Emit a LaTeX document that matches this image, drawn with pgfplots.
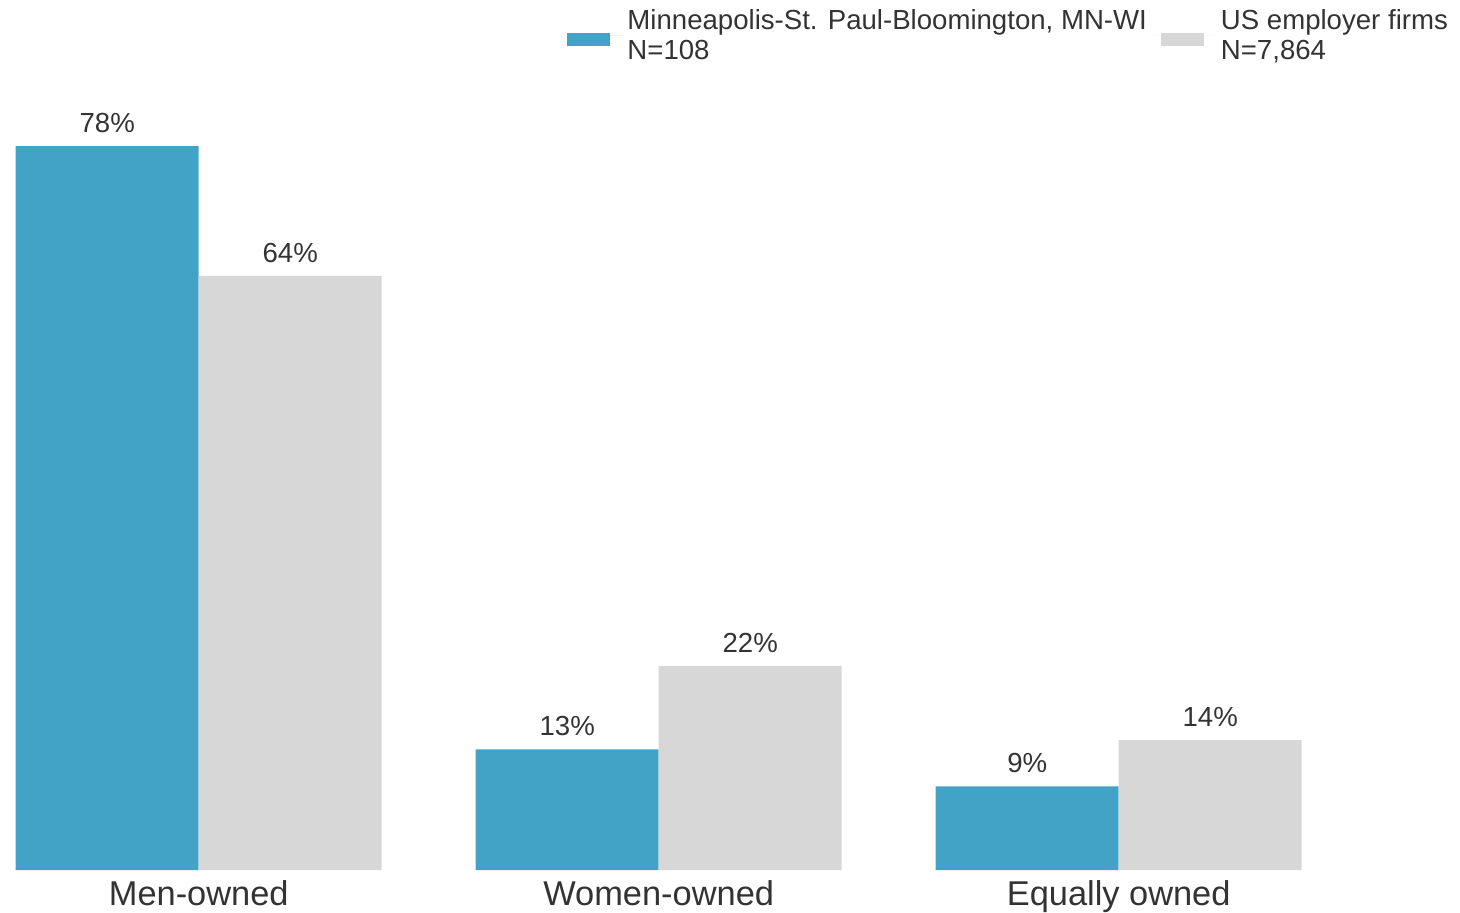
\documentclass[border=0pt]{standalone}
\usepackage{pgfplots}
\pgfplotsset{compat=1.18}
\usepackage{fontspec}
\setmainfont{Liberation Sans}
\definecolor{msp}{HTML}{42A3C7}
\definecolor{usgray}{HTML}{D7D7D7}
\definecolor{txt}{HTML}{333333}
\begin{document}
\begin{tikzpicture}
\useasboundingbox (0,-21pt) rectangle (730pt,435pt);
\begin{axis}[
  at={(0,0)}, anchor=south west,
  scale only axis, width=730pt, height=435pt,
  xmin=-0.432, xmax=2.742, ymin=0, ymax=93.73,
  ybar, bar width=91.5pt,
  axis line style={draw=none},
  ytick=\empty,
  xtick={0,1,2},
  xticklabels={Men-owned,Women-owned,Equally owned},
  major tick length=0pt,
  xticklabel style={font=\fontsize{17.2pt}{20pt}\selectfont, text=txt,
    anchor=north, inner sep=0pt, yshift=-5pt},
  nodes near coords={\pgfmathprintnumber[assume math mode=true]{\pgfplotspointmeta}\%},
  nodes near coords style={font=\fontsize{13.8pt}{16pt}\selectfont, text=txt,
    anchor=south, inner sep=0pt, yshift=6.5pt},
  clip=false,
  legend columns=2,
  legend style={draw=none, fill=none, inner sep=0pt, column sep=0pt,
    at={(rel axis cs:0.3884,0.9943)}, anchor=north west,
    font=\fontsize{13.8pt}{15pt}\selectfont, text=txt,
    cells={anchor=west, align=left, inner sep=0pt}},
]
\addplot[fill=msp, draw=none, bar shift=-45.75pt,
  legend image code/.code={
    \path (0pt,0pt) -- (28pt,0pt);
    \fill[msp] (0pt,-5.25pt) rectangle (21.5pt,1.25pt);}]
  coordinates {(0,78) (1,13) (2,9)};
\addlegendentry{Minneapolis-St. Paul-Bloomington, MN-WI\\N=108}
\addplot[fill=usgray, draw=none, bar shift=45.75pt,
  legend image code/.code={
    \path (-5pt,0pt) -- (28pt,0pt);
    \fill[usgray] (0pt,-5.25pt) rectangle (21.5pt,1.25pt);}]
  coordinates {(0,64) (1,22) (2,14)};
\addlegendentry{US employer firms\\N=7,864}
\end{axis}
\end{tikzpicture}
\end{document}
